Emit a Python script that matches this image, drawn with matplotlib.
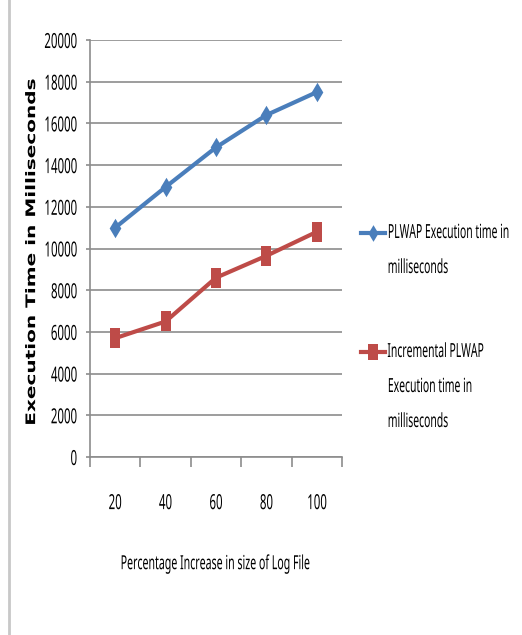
import numpy as np
import matplotlib.pyplot as plt
import matplotlib.patheffects as pe
from matplotlib.lines import Line2D
from matplotlib.path import Path
from matplotlib.transforms import Affine2D

pct = ["20", "40", "60", "80", "100"]
plwap = [11000, 12950, 14850, 16400, 17500]
inc_plwap = [5700, 6500, 8600, 9650, 10800]
legend_lines = [["PLWAP Execution time in", "milliseconds"],
                ["Incremental PLWAP", "Execution time in", "milliseconds"]]

blue = "#4A7EBB"
red = "#BE4B48"
grey = "#8c8c8c"
W, H = 522, 635
FONT = "Noto Sans"


class Stretch(pe.AbstractPathEffect):
    """Rescale the glyphs in display space (condensed / elongated look)."""

    def __init__(self, sx=1.0, sy=1.0, anchor="center"):
        super().__init__()
        self.sx, self.sy, self.anchor = sx, sy, anchor

    def draw_path(self, renderer, gc, tpath, affine, rgbFace=None):
        box = tpath.get_extents(affine)
        x0 = {"left": box.x0, "center": 0.5 * (box.x0 + box.x1), "right": box.x1}[self.anchor]
        y0 = 0.5 * (box.y0 + box.y1)
        affine = affine + Affine2D().translate(-x0, -y0).scale(self.sx, self.sy).translate(x0, y0)
        renderer.draw_path(gc, tpath, affine, rgbFace)


# narrow, tall markers
rect = Path([(-0.27, -0.5), (0.27, -0.5), (0.27, 0.5), (-0.27, 0.5), (-0.27, -0.5)],
            [Path.MOVETO, Path.LINETO, Path.LINETO, Path.LINETO, Path.CLOSEPOLY])
diam = Path([(0, -0.5), (0.3, 0), (0, 0.5), (-0.3, 0), (0, -0.5)],
            [Path.MOVETO, Path.LINETO, Path.LINETO, Path.LINETO, Path.CLOSEPOLY])
styles = [dict(color=blue, lw=3, marker=diam, mew=0), dict(color=red, lw=3, marker=rect, mew=0)]

fig = plt.figure(figsize=(W / 100, H / 100), dpi=100)
ax = fig.add_axes([90 / W, 1 - 457 / H, 252 / W, 417 / H])

x = np.arange(len(pct))
ax.plot(x, plwap, ms=14, **styles[0])
ax.plot(x, inc_plwap, ms=14, **styles[1])

ax.set_xlim(-0.5, len(pct) - 0.5)
ax.set_ylim(0, 20000)
ax.set_yticks(np.arange(0, 20001, 2000))
ax.yaxis.grid(True, color=grey, lw=1.2)
ax.set_axisbelow(True)

ax.set_xticks(x)
ax.set_xticklabels(pct)
ax.set_xticks(np.arange(-0.5, len(pct)), minor=True)
ax.tick_params(axis="x", which="major", length=0, pad=26)
ax.tick_params(axis="x", which="minor", length=7, color=grey, width=1.2)
ax.tick_params(axis="y", length=3, color=grey, width=1.2, pad=6)
for lab in ax.get_xticklabels():
    lab.set(family=FONT, fontsize=15, path_effects=[Stretch(0.55, 1, "center")])
for lab in ax.get_yticklabels():
    lab.set(family=FONT, fontsize=15, path_effects=[Stretch(0.55, 1, "right")])

for s in ["top", "right"]:
    ax.spines[s].set_visible(False)
for s in ["left", "bottom"]:
    ax.spines[s].set_color(grey)
    ax.spines[s].set_linewidth(1.2)

ax.set_ylabel("Execution Time in Milliseconds", fontsize=9.5, fontweight="bold",
              path_effects=[Stretch(1, 1.52)])
ax.yaxis.set_label_coords(-0.206, 0.494)
ax.set_xlabel("Percentage Increase in size of Log File", family=FONT, fontsize=14,
              path_effects=[Stretch(0.545, 1, "center")])
ax.xaxis.set_label_coords(0.497, -0.233)

# legend: handle beside the first line of each wrapped label
for style, lines, y0 in zip(styles, legend_lines, [233, 352]):
    fig.add_artist(Line2D([361 / W, 373 / W, 385 / W], [1 - y0 / H] * 3, markevery=[1],
                          ms=12, transform=fig.transFigure, **style))
    for i, line in enumerate(lines):
        fig.text(387 / W, 1 - (y0 + 35 * i) / H, line, family=FONT, fontsize=14,
                 va="center", path_effects=[Stretch(0.535, 1, "left")])

# page border on the left
fig.add_artist(Line2D([9 / W, 9 / W], [0, 1], color="#c8c8c8", lw=2))

fig.savefig("out.png", dpi=100)
